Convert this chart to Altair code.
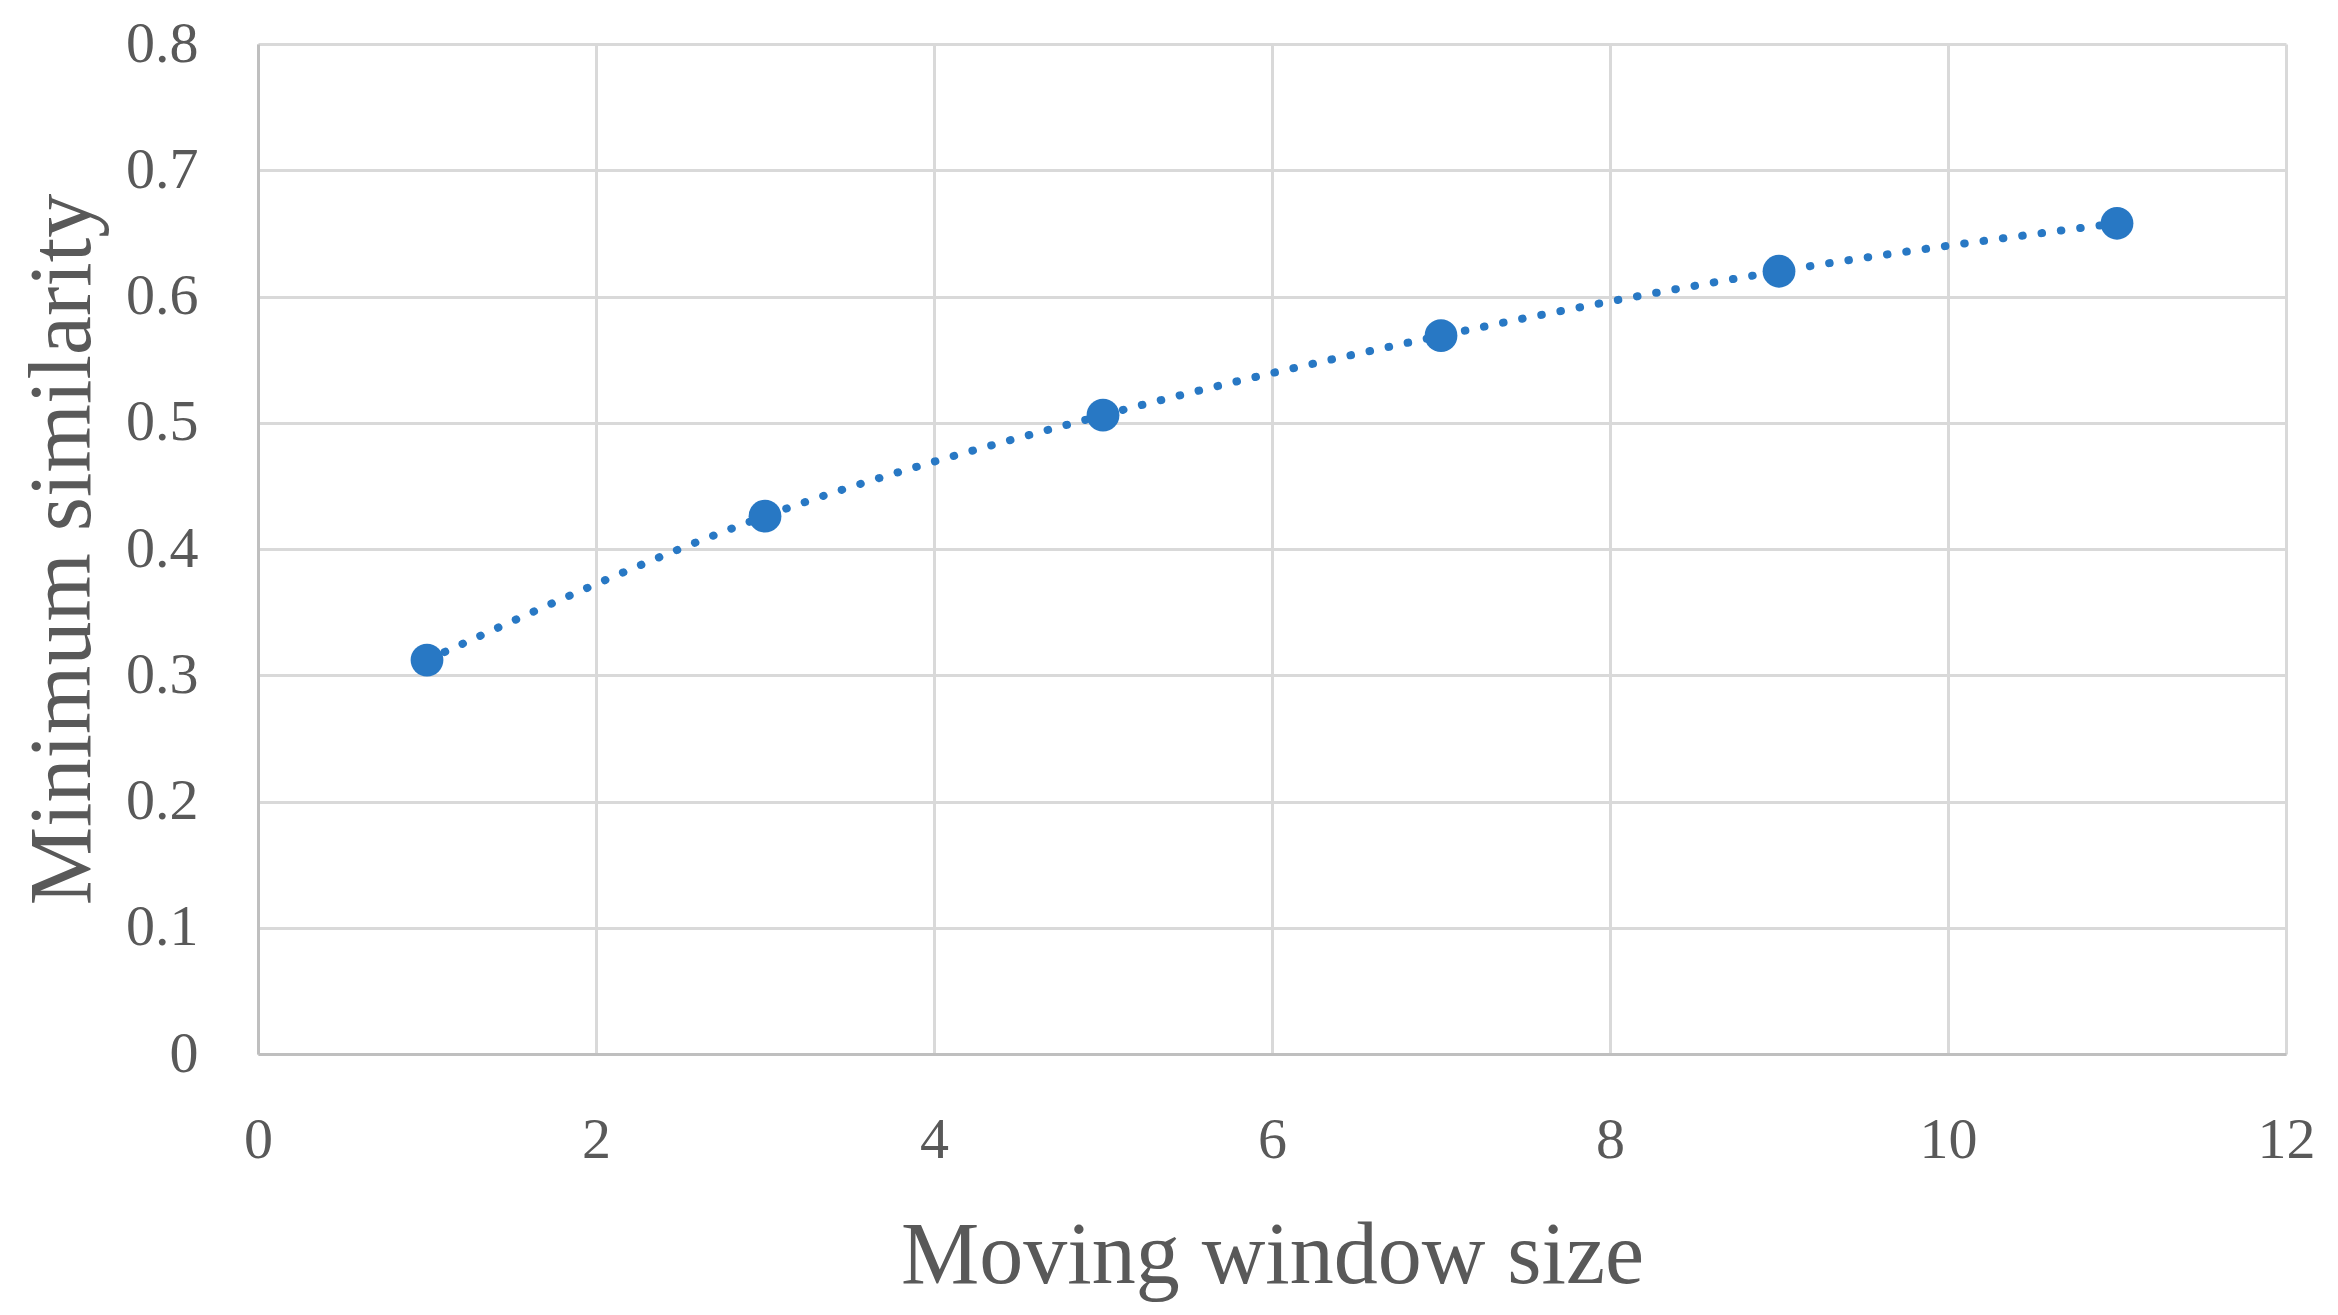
import altair as alt
import pandas as pd

window_size = [1, 3, 5, 7, 9, 11]
min_similarity = [0.312, 0.426, 0.506, 0.569, 0.620, 0.658]

df = pd.DataFrame({"x": window_size, "y": min_similarity})

FONT = "Liberation Serif"
TXT = "#595959"
BLUE = "#2878C4"

W, H = 2028, 1010

x_enc = alt.X("x:Q", scale=alt.Scale(domain=[0, 12], nice=False),
              axis=alt.Axis(title="Moving window size", values=list(range(0, 13, 2)),
                            format="d", labelFlush=False,
                            titleX=W / 2, titleY=228, titleBaseline="alphabetic",
                            titleAlign="center", labelPadding=57))
y_enc = alt.Y("y:Q", scale=alt.Scale(domain=[0, 0.8], nice=False),
              axis=alt.Axis(title="Minimum similarity",
                            values=[0, 0.1, 0.2, 0.3, 0.4, 0.5, 0.6, 0.7, 0.8],
                            labelExpr="datum.value == 0 ? '0' : format(datum.value, '.1f')",
                            labelFlush=False,
                            titleX=-169, titleY=H / 2, titleAngle=-90, titleAlign="center",
                            titleBaseline="alphabetic", labelPadding=60))

line = alt.Chart(df).mark_line(
    color=BLUE, strokeWidth=8, strokeDash=[0.5, 19], strokeCap="round",
    interpolate="monotone"
).encode(x=x_enc, y=y_enc)

points = alt.Chart(df).mark_circle(color=BLUE, opacity=1, size=1075).encode(x="x:Q", y="y:Q")

chart = (line + points).properties(
    width=W, height=H,
    autosize=alt.AutoSizeParams(type="none"),
    padding={"left": 250, "top": 36, "right": 44, "bottom": 255},
).configure_view(stroke=None).configure_axis(
    labelFont=FONT, titleFont=FONT, labelFontSize=58, titleFontSize=88,
    labelColor=TXT, titleColor=TXT, titleFontWeight="normal",
    gridColor="#d9d9d9", gridWidth=3, domainColor="#bfbfbf", domainWidth=3,
    ticks=False,
)

chart.save("out.html", embed_options={"renderer": "svg", "actions": False})
